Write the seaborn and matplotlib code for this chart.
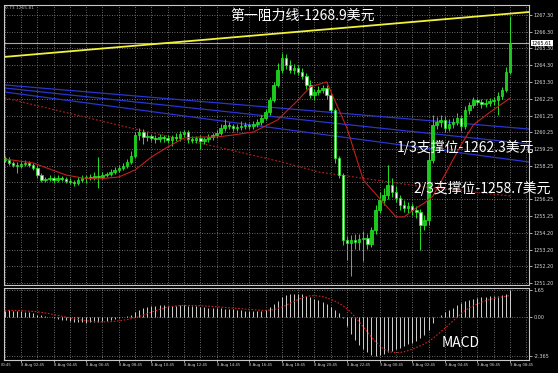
import numpy as np
import pandas as pd
import matplotlib
matplotlib.use("Agg")
import matplotlib.pyplot as plt
import matplotlib.transforms as mtransforms
import seaborn as sns

# ---------------- data ----------------
start_time = "2017-08-08 01:45"   # first 15-minute candle

closes = [
    1258.59, 1258.41, 1258.29, 1258.23, 1258.35, 1258.41, 1258.29, 1258.11, 1257.69, 1257.39,
    1257.45, 1257.51, 1257.39, 1257.51, 1257.45, 1257.33, 1257.27, 1257.21, 1257.39, 1257.51,
    1257.57, 1257.51, 1257.63, 1257.57, 1257.69, 1257.75, 1257.87, 1257.99, 1258.11, 1258.23,
    1258.47, 1258.83, 1260.09, 1260.27, 1259.97, 1260.03, 1259.91, 1259.85, 1259.97, 1259.91,
    1259.79, 1259.97, 1259.91, 1260.15, 1260.27, 1259.85, 1259.79, 1259.91, 1259.73, 1259.85,
    1259.97, 1260.09, 1260.21, 1260.51, 1260.69, 1260.63, 1260.51, 1260.57, 1260.63, 1260.69,
    1260.63, 1260.75, 1260.87, 1261.11, 1261.47, 1262.19, 1263.10, 1264.00, 1264.72, 1264.30,
    1264.00, 1264.12, 1263.88, 1263.64, 1263.10, 1262.50, 1262.68, 1262.80, 1262.92, 1262.50,
    1261.59, 1258.71, 1257.69, 1253.79, 1253.61, 1253.79, 1253.67, 1253.85, 1253.91, 1253.55,
    1254.39, 1255.59, 1256.19, 1256.49, 1257.09, 1256.67, 1256.31, 1255.89, 1255.71, 1255.83,
    1255.59, 1255.47, 1254.69, 1254.99, 1258.59, 1260.69, 1260.87, 1260.99, 1260.51, 1260.75,
    1260.87, 1261.11, 1260.63, 1261.59, 1261.89, 1262.19, 1262.07, 1261.95, 1262.01, 1262.13,
    1262.19, 1262.43, 1262.80, 1263.85, 1265.61]

opens = [
    1258.70, 1258.59, 1258.41, 1258.29, 1258.23, 1258.35, 1258.41, 1258.29, 1258.11, 1257.69,
    1257.39, 1257.45, 1257.51, 1257.39, 1257.51, 1257.45, 1257.33, 1257.27, 1257.21, 1257.39,
    1257.51, 1257.57, 1257.51, 1257.63, 1257.57, 1257.69, 1257.75, 1257.87, 1257.99, 1258.11,
    1258.23, 1258.47, 1258.83, 1260.09, 1260.27, 1259.97, 1260.03, 1259.91, 1259.85, 1259.97,
    1259.91, 1259.79, 1259.97, 1259.91, 1260.15, 1260.27, 1259.85, 1259.79, 1259.91, 1259.73,
    1259.85, 1259.97, 1260.09, 1260.21, 1260.51, 1260.69, 1260.63, 1260.51, 1260.57, 1260.63,
    1260.69, 1260.63, 1260.75, 1260.87, 1261.11, 1261.47, 1262.19, 1263.10, 1264.00, 1264.72,
    1264.30, 1264.00, 1264.12, 1263.88, 1263.64, 1263.10, 1262.50, 1262.68, 1262.80, 1262.92,
    1262.50, 1261.59, 1258.71, 1257.69, 1253.79, 1253.61, 1253.79, 1253.67, 1253.85, 1253.91,
    1253.55, 1254.39, 1255.59, 1256.19, 1256.49, 1257.09, 1256.67, 1256.31, 1255.89, 1255.71,
    1255.83, 1255.59, 1255.47, 1254.69, 1254.99, 1258.59, 1260.69, 1260.87, 1260.99, 1260.51,
    1260.75, 1260.87, 1261.11, 1260.63, 1261.59, 1261.89, 1262.19, 1262.07, 1261.95, 1262.01,
    1262.13, 1262.19, 1262.43, 1262.80, 1263.85]

upper_wick = [
    0.10, 0.15, 0.10, 0.20, 0.12, 0.15, 0.10, 0.12, 0.15, 0.10,
    0.12, 0.15, 0.10, 0.18, 0.12, 0.10, 0.15, 0.12, 0.20, 0.15,
    0.12, 0.18, 0.25, 1.15, 0.15, 0.12, 0.15, 0.20, 0.15, 0.18,
    0.15, 0.30, 0.20, 0.25, 0.20, 0.25, 0.15, 0.20, 0.18, 0.15,
    0.20, 0.15, 0.25, 0.20, 0.15, 0.12, 0.20, 0.15, 0.18, 0.15,
    0.20, 0.15, 0.20, 0.25, 0.35, 0.20, 0.15, 0.20, 0.30, 0.20,
    0.15, 0.20, 0.18, 0.20, 0.20, 0.20, 0.20, 0.40, 0.30, 0.25,
    0.30, 0.25, 0.20, 0.25, 0.20, 0.30, 0.20, 0.25, 0.20, 0.15,
    0.20, 0.15, 0.10, 0.12, 0.25, 0.30, 0.35, 0.30, 0.40, 0.25,
    0.20, 0.30, 0.50, 0.40, 1.20, 0.40, 0.35, 0.20, 0.30, 0.25,
    0.20, 0.25, 0.20, 0.30, 0.50, 0.60, 0.30, 0.30, 0.25, 0.30,
    0.25, 0.30, 0.20, 0.25, 0.20, 0.20, 0.15, 0.20, 0.25, 0.20,
    0.20, 0.25, 0.20, 0.30, 1.60]

lower_wick = [
    0.12, 0.10, 0.15, 0.40, 0.12, 0.10, 0.15, 0.12, 0.20, 0.15,
    0.12, 0.10, 0.20, 0.15, 0.12, 0.15, 0.10, 0.20, 0.15, 0.12,
    0.30, 0.15, 0.12, 0.67, 0.15, 0.12, 0.15, 0.12, 0.15, 0.12,
    0.10, 0.12, 0.10, 0.30, 0.40, 0.25, 0.20, 0.25, 0.20, 0.25,
    0.20, 0.35, 0.20, 0.15, 0.20, 0.25, 0.20, 0.15, 0.50, 0.20,
    0.15, 0.20, 0.15, 0.12, 0.20, 0.15, 0.20, 0.15, 0.20, 0.15,
    0.20, 0.15, 0.20, 0.15, 0.12, 0.15, 0.12, 0.15, 0.20, 0.25,
    0.20, 0.25, 0.20, 0.20, 0.25, 0.20, 0.30, 0.20, 0.20, 0.25,
    0.20, 0.30, 0.20, 0.30, 1.00, 2.00, 0.40, 0.50, 1.30, 0.30,
    0.20, 0.25, 0.20, 0.30, 0.25, 0.30, 0.25, 0.30, 0.25, 0.30,
    0.30, 0.35, 1.50, 0.30, 0.30, 0.20, 0.25, 0.30, 0.25, 0.20,
    0.25, 0.20, 0.30, 0.20, 0.25, 0.20, 0.20, 0.25, 0.20, 0.20,
    0.25, 0.90, 0.15, 0.10, 0.10]

macd_hist = [
    0.40, 0.42, 0.40, 0.38, 0.35, 0.32, 0.28, 0.22, 0.15, 0.10,
    0.05, 0.00, -0.05, -0.10, -0.15, -0.20, -0.25, -0.28, -0.30, -0.32,
    -0.33, -0.32, -0.30, -0.28, -0.25, -0.22, -0.18, -0.12, -0.06, 0.00,
    0.05, 0.12, 0.30, 0.45, 0.55, 0.62, 0.68, 0.70, 0.72, 0.72,
    0.70, 0.70, 0.70, 0.72, 0.72, 0.70, 0.68, 0.65, 0.62, 0.60,
    0.58, 0.55, 0.55, 0.55, 0.52, 0.50, 0.48, 0.45, 0.42, 0.40,
    0.38, 0.36, 0.36, 0.38, 0.45, 0.60, 0.80, 1.00, 1.20, 1.32,
    1.40, 1.43, 1.42, 1.38, 1.30, 1.20, 1.10, 1.02, 0.92, 0.80,
    0.62, 0.42, 0.22, -0.05, -0.55, -1.00, -1.40, -1.70, -1.95, -2.15,
    -2.30, -2.365, -2.30, -2.25, -2.15, -2.05, -1.95, -1.85, -1.75, -1.65,
    -1.55, -1.45, -1.30, -1.10, -0.80, -0.35, 0.00, 0.12, 0.28, 0.42,
    0.57, 0.75, 0.88, 0.98, 1.06, 1.12, 1.17, 1.20, 1.24, 1.27,
    1.29, 1.31, 1.35, 1.42, 1.65]
macd_signal_period = 9

# fast moving average (solid red), read at candle indices
fast_ma_idx = [0, 7, 15, 19, 23, 28, 32, 36, 40, 44, 48, 52, 56, 61, 67, 72, 75, 79,
               84, 88, 93, 96, 98, 101, 103, 105, 108, 112, 115, 119, 124]
fast_ma_val = [1258.65, 1258.41, 1257.69, 1257.51, 1257.45, 1257.57, 1257.99, 1258.77,
               1259.37, 1259.91, 1259.97, 1259.97, 1260.09, 1260.27, 1261.00, 1262.19,
               1262.98, 1263.28, 1260.50, 1257.39, 1256.01, 1255.17, 1255.17, 1255.71,
               1256.01, 1256.40, 1257.70, 1259.50, 1260.70, 1261.45, 1262.30]
# slow moving average (dotted red)
slow_ma_idx = [0, 33, 50, 68, 77, 103, 124]
slow_ma_val = [1262.32, 1260.39, 1259.49, 1258.47, 1257.87, 1256.97, 1256.43]

# drawn trend lines: price at left edge / right edge of the chart
resistance_line = [1264.78, 1267.48]
support_lines = [[1263.10, 1260.45], [1262.92, 1259.55], [1262.68, 1258.47]]

bid_price = 1265.61
bid_label = "1265.61"
price_ticks = [1267.30, 1266.30, 1265.30, 1264.30, 1263.30, 1262.25, 1261.25, 1260.25,
               1259.25, 1258.25, 1257.25, 1256.25, 1255.25, 1254.20, 1253.20, 1252.20, 1251.20]
# 1257.25 is hidden behind the annotation in the reference
price_tick_labels = ["1267.30", "1266.30", "1265.30", "1264.30", "1263.30", "1262.25",
                     "1261.25", "1260.25", "1259.25", "1258.25", "", "1256.25",
                     "1255.25", "1254.20", "1253.20", "1252.20", "1251.20"]
macd_ticks = [1.65, 0.00, -2.365]
macd_tick_labels = ["1.65", "0.00", "-2.365"]

title_text = "第一阻力线-1268.9美元"
support1_text = "1/3支撑位-1262.3美元"
support2_text = "2/3支撑位-1258.7美元"
macd_text = "MACD"
corner_info = "0.73 1265.81"
cut_first_label = "00:45"

# ---------------- style ----------------
sns.set_theme(style="dark")
CJK = ["Noto Sans CJK SC", "DejaVu Sans"]
plt.rcParams["font.family"] = CJK

GREEN = "#22e022"
BULL_FILL = "#1fc81f"
GRID = "#8c8c8c"
FRAME = "#c8c8c8"
TXT = "#d8d8d8"

W, H = 558, 373
fig = plt.figure(figsize=(W / 100, H / 100), dpi=100, facecolor="black")

ax = fig.add_axes([4 / W, 1 - 285 / H, 525 / W, 280 / H], facecolor="black")
ax2 = fig.add_axes([4 / W, 1 - 360 / H, 525 / W, 72 / H], facecolor="black")

n = len(closes)
idx = np.arange(n)
times = pd.date_range(start_time, periods=n, freq="15min")
o = np.array(opens)
c = np.array(closes)
hi = np.maximum(o, c) + np.array(upper_wick)
lo = np.minimum(o, c) - np.array(lower_wick)

xmin, xmax = -0.17, 128.66
for a in (ax, ax2):
    a.set_xlim(xmin, xmax)
    a.grid(False)
    for s in a.spines.values():
        s.set_color(FRAME)
        s.set_linewidth(0.8)
ax.set_ylim(1251.08, 1267.90)
ax2.set_ylim(-2.61, 1.77)

# grid: hourly verticals, price-tick horizontals
hour_pos = [i for i in range(0, 132, 4)]
for a, yt in ((ax, price_ticks), (ax2, macd_ticks)):
    for hp in hour_pos:
        a.axvline(hp, color=GRID, lw=0.6, ls=(0, (1, 2)), zorder=0)
    for yv in yt:
        a.axhline(yv, color=GRID, lw=0.6, ls=(0, (1, 2)), zorder=0)

# trend lines
ax.plot([xmin, xmax], resistance_line, color="#f2f23a", lw=1.3, zorder=2)
for sl in support_lines:
    ax.plot([xmin, xmax], sl, color="#2a35d0", lw=0.9, zorder=2)
ax.axhline(bid_price, color="#a8a8a8", lw=0.8, zorder=1)

# moving averages
sns.lineplot(x=slow_ma_idx, y=slow_ma_val, ax=ax, color="#a41c1c", lw=0.9,
             linestyle=(0, (1.5, 1.5)), estimator=None, zorder=2)

# candles
ax.vlines(idx, lo, hi, color=GREEN, lw=0.7, zorder=3)
bull = c >= o
faces = np.where(bull, BULL_FILL, "white")
ax.bar(idx, np.abs(c - o), bottom=np.minimum(o, c), width=0.62, color=faces,
       edgecolor=GREEN, linewidth=0.55, zorder=4)

sns.lineplot(x=fast_ma_idx, y=fast_ma_val, ax=ax, color="#c4201c", lw=0.8,
             estimator=None, zorder=5)

# MACD panel
hist = pd.Series(macd_hist)
signal = hist.rolling(macd_signal_period, min_periods=1).mean()
ax2.vlines(idx, 0, hist.values, color="#d0d0d0", lw=0.7, zorder=3)
sns.lineplot(x=idx, y=signal.values, ax=ax2, color="#d02020", lw=0.8,
             linestyle=(0, (1.5, 1.5)), estimator=None, zorder=4)

# right-hand axes
for a, ticks, labels in ((ax, price_ticks, price_tick_labels),
                         (ax2, macd_ticks, macd_tick_labels)):
    a.yaxis.tick_right()
    a.set_yticks(ticks)
    a.set_yticklabels(labels)
    a.tick_params(axis="y", right=True, length=2, width=0.6, color=FRAME,
                  labelsize=3.5, labelcolor=TXT, pad=1.5)
    a.tick_params(axis="x", bottom=False, labelbottom=False)
    for lab in a.get_yticklabels():
        lab.set_fontfamily("DejaVu Sans")
    a.set_xlabel("")
    a.set_ylabel("")

# bid price box
trans_b = mtransforms.blended_transform_factory(ax.transAxes, ax.transData)
ax.text(1.005, bid_price, bid_label, transform=trans_b, fontsize=3.5, color="black",
        family="DejaVu Sans", va="center", ha="left", zorder=10, clip_on=False,
        bbox=dict(facecolor="white", edgecolor="none", pad=0.5))

# time labels (every 2 hours), left aligned at their bar
trans_t = mtransforms.blended_transform_factory(ax2.transData, ax2.transAxes)
for i in range(4, n, 8):
    t = times[i]
    ax2.text(i, -0.035, f"{t.day} {t:%b %H:%M}", transform=trans_t, fontsize=2.7,
             color=TXT, family="DejaVu Sans", ha="left", va="top", clip_on=False)
    ax2.plot([i, i], [0, -0.03], transform=trans_t, color=FRAME, lw=0.6,
             clip_on=False)
fig.text(1 / W, 1 - 362.5 / H, cut_first_label, fontsize=2.7, color=TXT,
         family="DejaVu Sans", ha="left", va="top")

# corner info
fig.text(5 / W, 1 - 8 / H, corner_info, fontsize=3.2, color="#b8b8b8",
         family="DejaVu Sans", va="center", ha="left")

# annotations
def ftext(x, y, s):
    fig.text(x / W, 1 - y / H, s, fontsize=10, color="white", family=CJK,
             va="center", ha="left", zorder=20)

ftext(230, 16, title_text)
ftext(397, 147, support1_text)
ftext(413, 189, support2_text)
ftext(442, 343, macd_text)

fig.savefig("out.png", dpi=100, facecolor="black")
